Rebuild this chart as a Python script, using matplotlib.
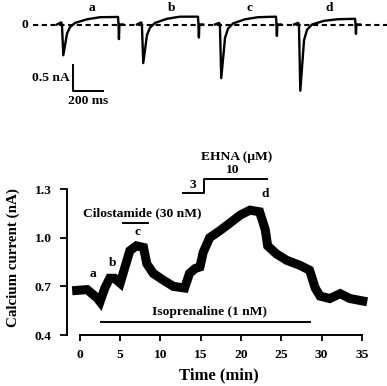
import numpy as np
import matplotlib
matplotlib.use("Agg")
import matplotlib.pyplot as plt

plt.rcParams['font.family'] = ['Liberation Serif', 'DejaVu Serif']
plt.rcParams['font.weight'] = 'bold'

# time course of the calcium current (min, nA)
time_min = [-0.4, 0.9, 2.1, 2.5, 3.1, 3.7, 4.3, 5.0, 5.6, 6.2, 7.0, 7.9, 8.3, 9.1,
            10.3, 11.6, 13.0, 13.6, 14.3, 14.9, 15.3, 16.1, 17.4, 18.6, 19.9, 21.1,
            22.3, 23.0, 23.3, 24.4, 25.7, 27.3, 28.5, 29.2, 29.8, 31.0, 32.3, 33.5, 35.1]
current_na = [0.675, 0.68, 0.63, 0.605, 0.69, 0.75, 0.75, 0.72, 0.82, 0.92, 0.95, 0.94, 0.84, 0.78,
              0.74, 0.70, 0.69, 0.78, 0.81, 0.82, 0.91, 1.00, 1.045, 1.09, 1.14, 1.17,
              1.16, 1.05, 0.95, 0.90, 0.86, 0.83, 0.80, 0.69, 0.64, 0.625, 0.655, 0.625, 0.61]

point_labels = ['a', 'b', 'c', 'd']
point_t = [1.6, 4.1, 7.2, 23.0]
point_v = [0.74, 0.81, 1.00, 1.235]

# example current traces (ms from trace start, nA)
trace_ms = [0, 27, 28, 33, 42, 67, 87, 120, 200, 287, 407, 410, 413, 416, 440]
trace_a = [0, 0.04, 0.04, 0, -0.59, -0.17, -0.05, 0.03, 0.10, 0.14, 0.145, 0, -0.28, 0, 0]
trace_b = [0, 0.04, 0.04, 0, -0.74, -0.20, -0.06, 0.03, 0.11, 0.15, 0.15, 0, -0.25, 0, 0]
trace_c = [0, 0.03, 0.03, 0, -1.03, -0.26, -0.08, 0.02, 0.10, 0.14, 0.15, 0, -0.22, 0, 0]
trace_d = [0, 0.03, 0.03, 0, -1.27, -0.30, -0.10, 0.0, 0.07, 0.10, 0.11, 0, -0.18, 0, 0]
trace_start = [380, 913, 1433, 1960]

fs = 9.7

fig = plt.figure(figsize=(3.87, 3.86), dpi=100)

# ---- top panel: raw traces ----
top = fig.add_axes([0, 0.715, 1, 0.285])
top.set_xlim(0, 2580)
top.set_ylim(-1.64, 0.47)
top.axis('off')
top.plot([220, 2580], [0, 0], color='black', lw=1.5, dashes=(2.5, 1.7))
top.text(185, 0, '0', ha='right', va='center', fontsize=fs)
for lab, start, tr in zip(point_labels, trace_start, [trace_a, trace_b, trace_c, trace_d]):
    top.plot(np.array(trace_ms) + start, tr, color='black', lw=1.7)
    top.text(start + 233, 0.2, lab, ha='center', va='bottom', fontsize=fs)
# scale bar 0.5 nA / 200 ms
top.plot([487, 487, 687], [-0.78, -1.28, -1.28], color='black', lw=1.4)
top.text(465, -1.03, '0.5 nA', ha='right', va='center', fontsize=fs)
top.text(587, -1.36, '200 ms', ha='center', va='top', fontsize=fs)

# ---- bottom panel: time course ----
ax = fig.add_axes([0.1731, 0.1321, 0.783, 0.378])
ax.plot(time_min, current_na, color='black', lw=6.5, solid_joinstyle='miter')
ax.set_xlim(-1.6, 36)
ax.set_ylim(0.4, 1.3)
ax.set_xticks(range(0, 36, 5))
ax.set_yticks([0.4, 0.7, 1.0, 1.3])
ax.spines['top'].set_visible(False)
ax.spines['right'].set_visible(False)
ax.spines['bottom'].set_bounds(0, 35)
ax.spines['left'].set_bounds(0.4, 1.3)
for s in ['bottom', 'left']:
    ax.spines[s].set_linewidth(1.4)
ax.tick_params(direction='out', length=4, width=1.3, labelsize=fs)
ax.tick_params(axis='y', length=5, pad=6)
ax.tick_params(axis='x', pad=6)
ax.set_xlabel('Time (min)', fontsize=12, fontweight='bold', labelpad=5)
ax.set_ylabel('Calcium current (nA)', fontsize=10.8, fontweight='bold')
ax.yaxis.set_label_coords(-0.155, 0.534)

for lab, t, v in zip(point_labels, point_t, point_v):
    ax.text(t, v, lab, ha='center', va='bottom', fontsize=fs)

# drug application bars
ax.plot([2.6, 28.5], [0.48, 0.48], color='black', lw=1.4)
ax.text(16.1, 0.505, 'Isoprenaline (1 nM)', ha='center', va='bottom', fontsize=fs)
ax.plot([5.3, 8.4], [1.09, 1.09], color='black', lw=1.4)
ax.text(7.75, 1.115, 'Cilostamide (30 nM)', ha='center', va='bottom', fontsize=fs)
ax.plot([12.8, 15.4, 15.4, 23.2], [1.275, 1.275, 1.362, 1.362], color='black', lw=1.4,
        clip_on=False)
ax.text(14.0, 1.29, '3', ha='center', va='bottom', fontsize=fs)
ax.text(18.9, 1.38, '10', ha='center', va='bottom', fontsize=fs)
ax.text(19.4, 1.46, 'EHNA (μM)', ha='center', va='bottom', fontsize=fs)

fig.savefig('out.png', dpi=100)
